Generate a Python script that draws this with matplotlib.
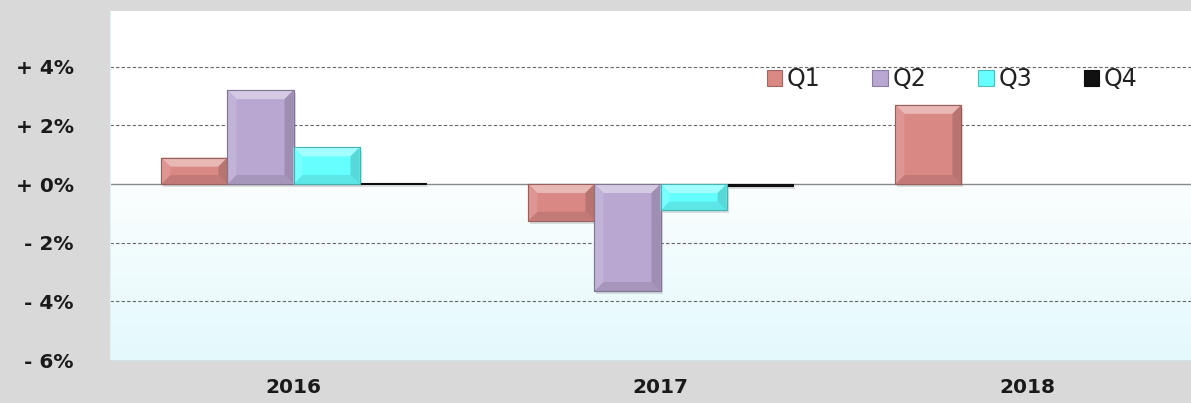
import numpy as np
import matplotlib
matplotlib.use("Agg")
import matplotlib.pyplot as plt
from matplotlib.patches import Polygon, Rectangle
from matplotlib.colors import to_rgb

years = ["2016", "2017", "2018"]
quarters = ["Q1", "Q2", "Q3", "Q4"]
q1 = [0.9, -1.25, 2.7]
q2 = [3.2, -3.65, np.nan]
q3 = [1.25, -0.9, np.nan]
q4 = [0.05, -0.05, np.nan]
series = [q1, q2, q3, q4]
colors = ["#d98884", "#b9a7d1", "#66ffff", "#111111"]
yticks = [-6, -4, -2, 0, 2, 4]
ytick_labels = ["- 6%", "- 4%", "- 2%", "+ 0%", "+ 2%", "+ 4%"]

W, H = 1191, 403
fig = plt.figure(figsize=(W / 100, H / 100), dpi=100)
fig.patch.set_facecolor("#d9d9d9")
ax = fig.add_axes([110 / W, 43 / H, 1101 / W, 349 / H])
ax.set_xlim(-0.5, 2.5)
ax.set_ylim(-6, 5.9)
ax.set_facecolor("white")

# gradient below zero
grad = np.linspace(0, 1, 256).reshape(-1, 1)
c_top = np.array(to_rgb("#fbfefe"))
c_bot = np.array(to_rgb("#e4f9fc"))
img = c_top[None, None, :] * (1 - grad[:, :, None]) + c_bot[None, None, :] * grad[:, :, None]
ax.imshow(img, extent=(-0.5, 2.5, -6, 0), aspect="auto", zorder=0, origin="upper")

for y in [-4, -2, 2, 4]:
    ax.axhline(y, color="#666666", lw=0.8, ls=(0, (3, 2)), zorder=1)
ax.axhline(0, color="#888888", lw=1.0, zorder=1)

width = 0.18
x = np.arange(len(years))
offsets = (np.arange(4) - 1.5) * width

def lighten(c, f):
    c = np.array(to_rgb(c))
    return tuple(c + (1 - c) * f)

def darken(c, f):
    c = np.array(to_rgb(c))
    return tuple(c * (1 - f))

# pixel to data scale
px_y = (5.9 + 6) / 349.0
px_x = 3.0 / 1101.0

for i, (vals, col) in enumerate(zip(series, colors)):
    v = np.array(vals, dtype=float)
    bars = ax.bar(x + offsets[i], v, width, color=col, zorder=3,
                  edgecolor=darken(col, 0.25), linewidth=0.8,
                  label=quarters[i])
    for b in bars:
        h = b.get_height()
        if np.isnan(h) or h == 0:
            continue
        x0, w = b.get_x(), b.get_width()
        y0, y1 = min(0, h), max(0, h)
        # shadow
        sh = Rectangle((x0 + 2 * px_x, y0 - 3 * px_y), w, y1 - y0,
                       color="#000000", alpha=0.12, zorder=2, lw=0)
        ax.add_patch(sh)
        if col == "#111111":
            continue
        bx = min(w * 0.14, 9 * px_x)
        by = min((y1 - y0) * 0.35, 9 * px_y)
        ax.add_patch(Polygon([(x0, y1), (x0 + w, y1), (x0 + w - bx, y1 - by), (x0 + bx, y1 - by)],
                             closed=True, color=lighten(col, 0.4), lw=0, zorder=4))
        ax.add_patch(Polygon([(x0, y0), (x0 + w, y0), (x0 + w - bx, y0 + by), (x0 + bx, y0 + by)],
                             closed=True, color=darken(col, 0.1), lw=0, zorder=4))
        ax.add_patch(Polygon([(x0, y0), (x0, y1), (x0 + bx, y1 - by), (x0 + bx, y0 + by)],
                             closed=True, color=lighten(col, 0.12), lw=0, zorder=4))
        ax.add_patch(Polygon([(x0 + w, y0), (x0 + w, y1), (x0 + w - bx, y1 - by), (x0 + w - bx, y0 + by)],
                             closed=True, color=darken(col, 0.15), lw=0, zorder=4))
        ax.add_patch(Rectangle((x0, y0), w, y1 - y0, fill=False,
                               edgecolor=darken(col, 0.3), lw=0.8, zorder=5))

ax.set_yticks(yticks)
ax.set_yticklabels(ytick_labels, fontsize=14.5, fontweight="bold", color="#1a1a1a")
ax.set_xticks(x)
ax.set_xticklabels(years, fontsize=14.5, fontweight="bold", color="#1a1a1a")
ax.tick_params(axis="y", length=0, pad=26)
ax.tick_params(axis="x", length=0, pad=13)
for s in ax.spines.values():
    s.set_visible(False)
ax.spines["left"].set_visible(True)
ax.spines["left"].set_color("#dff3f6")
ax.spines["bottom"].set_visible(True)
ax.spines["bottom"].set_color("#cfe3e6")

leg = ax.legend(loc="center", bbox_to_anchor=(0.765, 0.805), ncol=4, frameon=False,
                fontsize=17, handlelength=0.65, handleheight=0.65, handletextpad=0.2,
                columnspacing=2.2)
for t in leg.get_texts():
    t.set_color("#222222")

fig.savefig("out.png", dpi=100, facecolor=fig.get_facecolor())
